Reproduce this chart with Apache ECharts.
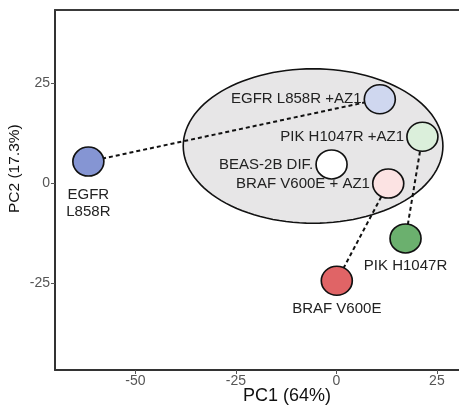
<!DOCTYPE html>
<html>
<head>
<meta charset="utf-8">
<script src="https://cdn.jsdelivr.net/npm/echarts@6/dist/echarts.min.js"></script>
<style>
    html, body { margin: 0; padding: 0; background: #fff; }
    #chart { width: 459px; height: 413px; }
</style>
</head>
<body>
<div id="chart"></div>
<script>
    // samples and their PCA coordinates
    var sampleNames = ['EGFR\nL858R', 'EGFR L858R +AZ1', 'PIK H1047R +AZ1', 'BEAS-2B DIF.', 'BRAF V600E + AZ1', 'PIK H1047R', 'BRAF V600E'];
    var pc1 = [-61.7, 10.8, 21.4, -1.2, 12.9, 17.2, 0.1];
    var pc2 = [5.3, 20.9, 11.5, 4.6, -0.2, -13.9, -24.5];
    var fills = ['#8595d3', '#cfd7ef', '#dbefdb', '#ffffff', '#fce3e3', '#6bb06e', '#e06466'];
    var labelSide = ['bottom', 'left', 'left', 'left', 'left', 'bottom', 'bottom'];
    // untreated -> treated links (index pairs)
    var links = [[0, 1], [5, 2], [6, 4]];
    // cluster ellipse: centre and half axes in data units
    var ellipseCenter = [-5.8, 9.2];
    var ellipseRadius = [32.3, 19.3];
    var xTicks = [-50, -25, 0, 25];
    var yTicks = [-25, 0, 25];

    var chart = echarts.init(document.getElementById('chart'));
    var fontFamily = '"Liberation Sans", Arial, sans-serif';

    var points = pc1.map(function (x, i) {
        var side = labelSide[i];
        return {
            value: [x, pc2[i]],
            itemStyle: { color: fills[i] },
            label: {
                show: true,
                formatter: sampleNames[i],
                position: side,
                distance: side === 'left' ? 2 : (i === 0 ? 9 : 4),
                align: side === 'left' ? 'right' : 'center',
                lineHeight: 17
            }
        };
    });

    var linkData = links.map(function (p) {
        return { coords: [[pc1[p[0]], pc2[p[0]]], [pc1[p[1]], pc2[p[1]]]] };
    });

    var option = {
        animation: false,
        textStyle: { fontFamily: fontFamily },
        grid: {
            left: 55,
            top: 10,
            right: 0,
            height: 360
        },
        xAxis: [{
            type: 'value',
            min: -70,
            max: 30.5,
            splitLine: { show: false },
            axisLine: { show: true, onZero: false, lineStyle: { color: '#333', width: 2 } },
            axisTick: { show: true, customValues: xTicks, length: 4, lineStyle: { color: '#555' } },
            axisLabel: { customValues: xTicks, color: '#555', fontSize: 14, margin: 4 }
        }, {
            // top frame line
            type: 'value',
            position: 'top',
            min: -70,
            max: 30.5,
            splitLine: { show: false },
            axisLine: { show: true, onZero: false, lineStyle: { color: '#3a3a3a', width: 2 } },
            axisTick: { show: false },
            axisLabel: { show: false }
        }],
        yAxis: {
            type: 'value',
            min: -46.8,
            max: 43.2,
            splitLine: { show: false },
            axisLine: { show: true, onZero: false, lineStyle: { color: '#333', width: 2 } },
            axisTick: { show: true, customValues: yTicks, length: 4, lineStyle: { color: '#555' } },
            axisLabel: { customValues: yTicks, color: '#555', fontSize: 14, margin: 5 }
        },
        graphic: [{
            type: 'text',
            left: 243,
            top: 387,
            style: { text: 'PC1 (64%)', fill: '#111', font: '18px ' + fontFamily }
        }, {
            type: 'text',
            x: 7,
            y: 213,
            rotation: Math.PI / 2,
            style: { text: 'PC2 (17.3%)', fill: '#111', font: '15.5px ' + fontFamily }
        }],
        series: [{
            type: 'custom',
            z: 1,
            silent: true,
            data: [[ellipseCenter[0], ellipseCenter[1]]],
            renderItem: function (params, api) {
                var c = api.coord([api.value(0), api.value(1)]);
                var rx = api.size([ellipseRadius[0], 0])[0];
                var ry = api.size([0, ellipseRadius[1]])[1];
                var pts = [];
                for (var k = 0; k < 120; k++) {
                    var a = k / 120 * Math.PI * 2;
                    pts.push([c[0] + rx * Math.cos(a), c[1] + ry * Math.sin(a)]);
                }
                return {
                    type: 'polygon',
                    shape: { points: pts },
                    style: { fill: '#e7e6e7', stroke: '#111', lineWidth: 1.6 }
                };
            }
        }, {
            type: 'lines',
            coordinateSystem: 'cartesian2d',
            z: 2,
            silent: true,
            lineStyle: { color: '#111', width: 2, type: [4, 3], opacity: 1 },
            data: linkData
        }, {
            type: 'scatter',
            z: 3,
            symbol: 'circle',
            symbolSize: [31, 29],
            itemStyle: { borderColor: '#111', borderWidth: 1.6, opacity: 1 },
            label: { color: '#222', fontSize: 15, fontFamily: fontFamily },
            data: points
        }]
    };

    chart.setOption(option);
</script>
</body>
</html>
